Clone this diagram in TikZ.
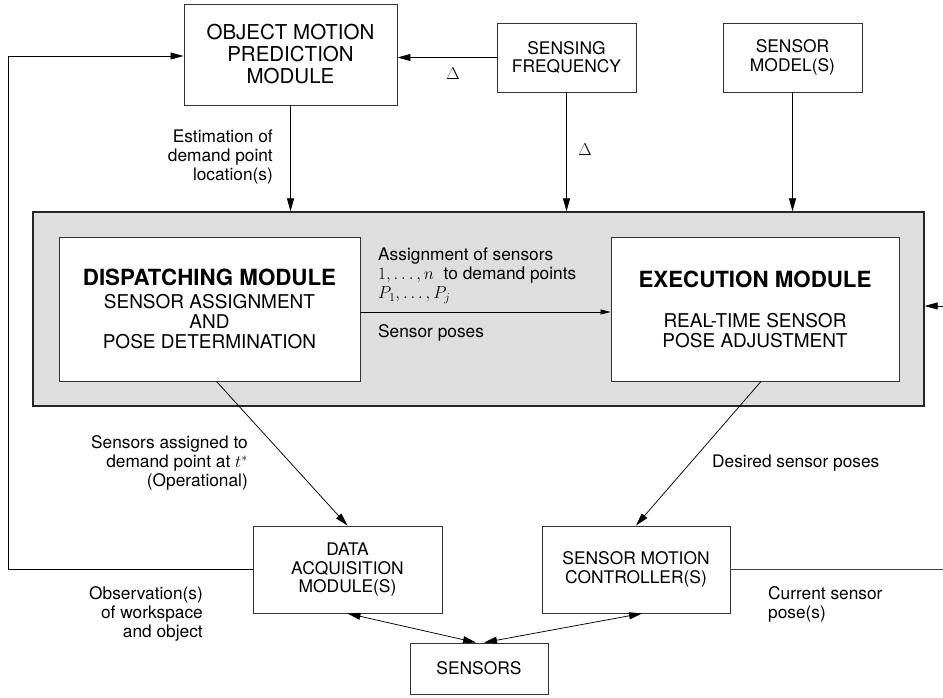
\documentclass[tikz,border=0pt]{standalone}
\usepackage{fontspec}
\setmainfont{TeX Gyre Heros}
\usetikzlibrary{arrows.meta}
\begin{document}
\begin{tikzpicture}[x=1pt,y=-1pt,
  box/.style={draw=black!80, line width=0.9pt, fill=white, align=center, inner sep=0pt,
    font=\fontsize{17.4}{18.5}\selectfont},
  modbox/.style={box, minimum height=144pt, font=\fontsize{19}{20}\selectfont},
  arr/.style={-{Triangle[length=13pt,width=7pt]}, line width=0.75pt},
  darr/.style={{Triangle[length=13pt,width=7pt]}-{Triangle[length=13pt,width=7pt]}, line width=0.75pt},
  sarr/.style={-{Triangle[length=10pt,width=5pt]}, line width=0.75pt},
  conn/.style={line width=0.75pt, draw=black!75},
  lbl/.style={inner sep=0pt, font=\fontsize{17.3}{19}\selectfont},
]
\useasboundingbox (0,0) rectangle (943,698);

% gray enclosure
\node[draw=black!85, line width=1.3pt, fill=black!13, minimum width=891pt, minimum height=194pt, inner sep=0pt] (gray) at (478.5,309) {};

% top boxes
\node[box, minimum width=213pt, minimum height=101pt, font=\fontsize{20.5}{22}\selectfont] (omp) at (290.5,54.5) {OBJECT MOTION\\PREDICTION\\MODULE};
\node[box, minimum width=139pt, minimum height=69pt] (sf) at (566.5,57.5) {SENSING\\FREQUENCY};
\node[box, minimum width=139pt, minimum height=69pt] (sm) at (792.5,57.5) {SENSOR\\MODEL(S)};

% modules
\node[modbox, minimum width=301pt] (disp) at (209.5,309)
  {{\fontsize{22.3}{24}\selectfont\bfseries DISPATCHING MODULE}\\[3pt]SENSOR ASSIGNMENT\\AND\\POSE DETERMINATION};
\node[modbox, minimum width=288pt] (exec) at (755,309)
  {{\fontsize{22.3}{24}\selectfont\bfseries EXECUTION MODULE}\\[20pt]REAL-TIME SENSOR\\POSE ADJUSTMENT};

% bottom boxes
\node[box, minimum width=189pt, minimum height=87pt] (daq) at (347.5,569.5) {DATA\\ACQUISITION\\MODULE(S)};
\node[box, minimum width=188pt, minimum height=87pt] (smc) at (636,569.5) {SENSOR MOTION\\CONTROLLER(S)};
\node[box, minimum width=138pt, minimum height=51pt] (sens) at (479,668.5) {SENSORS};

% free ends
\coordinate (lt) at (8,56);
\coordinate (rin) at (943,306);
\coordinate (rout) at (943,568);

% connectors
\draw[arr] (omp.south) -- (omp.south |- gray.north);
\draw[arr] (sf.south) -- (sf.south |- gray.north);
\draw[arr] (sm.south) -- (sm.south |- gray.north);
\draw[arr] (sf.west) -- (sf.west -| omp.east);
\draw[arr] (daq.west) -- (daq.west -| lt) -- (lt) -- (lt -| omp.west);
\draw[sarr] ([yshift=-3pt]disp.east) -- ([yshift=-3pt]exec.west);
\draw[arr] (rin) -- (rin -| gray.east);
\draw[conn] (smc.east) -- (smc.east -| rout);
\draw[arr] ([xshift=7pt]disp.south) -- (daq.north);
\draw[arr] ([xshift=6pt]exec.south) -- (smc.north);
\draw[darr] (daq.south) -- ([xshift=-3pt]sens.north);
\draw[darr] ([xshift=6pt]smc.south) -- ([xshift=5pt]sens.north);

% labels
\node[lbl] (d1) at (453,74) {$\Delta$};
\node[lbl] (d2) at (585,150) {$\Delta$};
\node[lbl, anchor=east, align=right] (est) at (273,157) {Estimation of\\demand point\\location(s)};
\node[lbl, anchor=west, align=left] (asg) at (378,276) {Assignment of sensors\\$1,\ldots,n$\; to demand points\\$P_1,\ldots,P_j$};
\node[lbl, anchor=west] (sp) at (378,333) {Sensor poses};
\node[lbl, anchor=east, align=right] (sat) at (248,463) {Sensors assigned to\\demand point at $t^*$\\(Operational)};
\node[lbl, anchor=west] (dsp) at (712,463) {Desired sensor poses};
\node[lbl, anchor=east, align=right] (obs) at (203,614) {Observation(s)\\of workspace\\and object};
\node[lbl, anchor=west, align=left] (csp) at (768,604.5) {Current sensor\\pose(s)};
\end{tikzpicture}
\end{document}
